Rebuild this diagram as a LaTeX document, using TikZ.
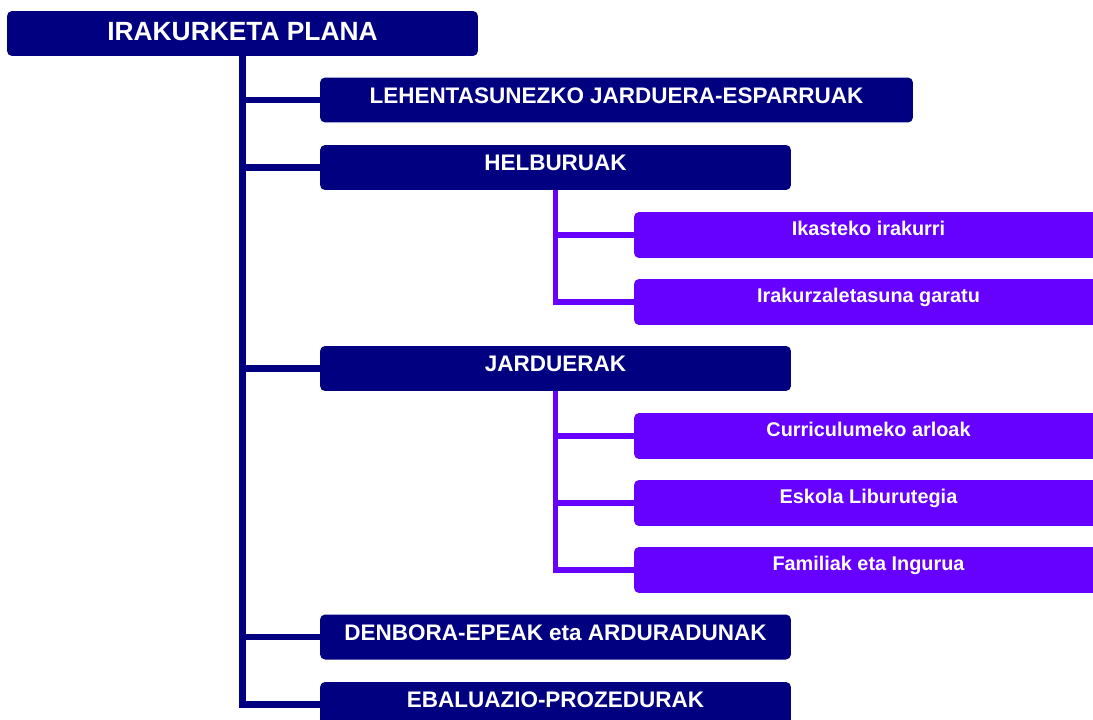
\documentclass[tikz,border=0pt]{standalone}
\usepackage{fontspec}
\setmainfont{Liberation Sans}
\usepackage{tikz}
\usetikzlibrary{positioning}
\definecolor{planblue}{HTML}{000080}
\definecolor{planviolet}{HTML}{6600FF}
\tikzset{
	plan node/.style={rectangle,rounded corners=0.1cm,fill=planblue,text=white,inner sep=0pt,
		font=\bfseries\fontsize{15}{18}\selectfont,minimum width=9.42cm,minimum height=0.9cm,
		text height=0.38cm,text depth=0.1cm},
	main node/.style={rectangle,rounded corners=0.1cm,fill=planblue,text=white,inner sep=0pt,
		font=\bfseries\fontsize{12.8}{15}\selectfont,minimum width=9.42cm,minimum height=0.9cm,
		text height=0.33cm,text depth=0.21cm},
	sub node/.style={rectangle,rounded corners=0.1cm,fill=planviolet,text=white,inner sep=0pt,
		font=\bfseries\fontsize{11.3}{13}\selectfont,minimum width=9.38cm,minimum height=0.92cm,
		text height=0.29cm,text depth=0.285cm},
	main line/.style={draw=planblue,line width=3.7pt},
	sub line/.style={draw=planviolet,line width=3.2pt}
}
\begin{document}
\begin{tikzpicture}[x=0.02cm,y=-0.02cm]
	\useasboundingbox (0,0) rectangle (1093,720);
	\clip (0,0) rectangle (1093,720);
	\node [plan node] (plana) at (242.5,33.5) {IRAKURKETA PLANA};
	\node [main node,minimum width=11.86cm] (esparru) at (616.5,100) {LEHENTASUNEZKO JARDUERA-ESPARRUAK};
	\node [main node] (helburu) at (555.5,167.5) {HELBURUAK};
	\node [sub node] (ikasteko) at (868.5,235) {Ikasteko irakurri};
	\node [sub node] (zaletasun) at (868.5,302) {Irakurzaletasuna garatu};
	\node [main node] (jarduera) at (555.5,368.5) {JARDUERAK};
	\node [sub node] (curriculum) at (868.5,436) {Curriculumeko arloak};
	\node [sub node] (liburutegi) at (868.5,503) {Eskola Liburutegia};
	\node [sub node] (familia) at (868.5,570) {Familiak eta Ingurua};
	\node [main node] (denbora) at (555.5,637) {DENBORA-EPEAK eta ARDURADUNAK};
	\node [main node] (ebaluazio) at (555.5,704.5) {EBALUAZIO-PROZEDURAK};

	\foreach \child in {esparru,helburu,jarduera,denbora,ebaluazio}
		\draw [main line] (plana.south) |- (\child.west);
	\foreach \child in {ikasteko,zaletasun}
		\draw [sub line] (helburu.south) |- (\child.west);
	\foreach \child in {curriculum,liburutegi,familia}
		\draw [sub line] (jarduera.south) |- (\child.west);
\end{tikzpicture}
\end{document}
